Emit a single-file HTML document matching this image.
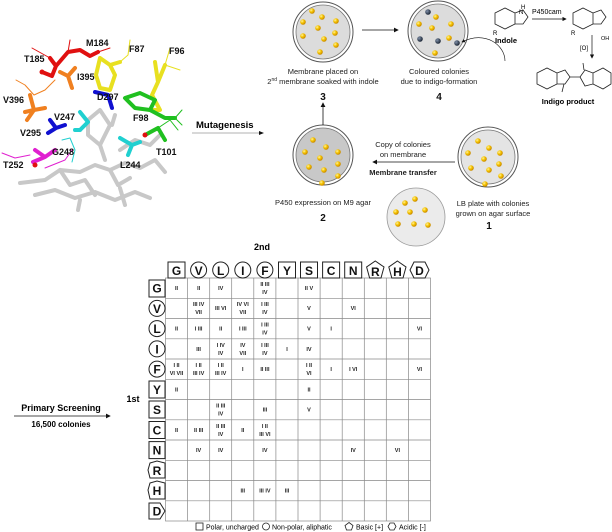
<!DOCTYPE html>
<html><head><meta charset="utf-8"><style>
html,body{margin:0;padding:0;background:#fff;}
svg{display:block;font-family:"Liberation Sans",sans-serif;}
.c{font-size:5.5px;font-weight:bold;text-anchor:middle;fill:#222}
.h{font-size:12px;font-weight:bold;text-anchor:middle;fill:#111}
.lb{font-size:9px;font-weight:bold;fill:#111}
.t{font-size:7.5px;text-anchor:middle;fill:#222}
.n{font-size:10px;font-weight:bold;text-anchor:middle;fill:#111}
.sh{fill:#fff;stroke:#222;stroke-width:1}
</style></head><body>
<svg width="612" height="532" viewBox="0 0 612 532">
<defs>
<marker id="ar" markerWidth="6" markerHeight="6" refX="5" refY="3" orient="auto"><path d="M0,0 L6,3 L0,6z" fill="#111"/></marker>
<radialGradient id="y" cx="35%" cy="35%" r="65%"><stop offset="0" stop-color="#fff3a0"/><stop offset="0.5" stop-color="#f5c400"/><stop offset="1" stop-color="#c98a00"/></radialGradient>
<radialGradient id="b" cx="35%" cy="35%" r="65%"><stop offset="0" stop-color="#8090a8"/><stop offset="1" stop-color="#1e2838"/></radialGradient>
</defs>

<!-- protein structure sketch -->
<g stroke-linecap="round" stroke-linejoin="round" fill="none">
<g stroke="#c8c8c8" stroke-width="4">
<path d="M20,183 L45,180 L60,170 L80,172 L95,165 L110,170 L125,163 L140,168 L155,160 L165,172"/>
<path d="M35,195 L55,190 L75,198 L95,192 L115,200 L135,192 L150,198"/>
<path d="M60,170 L70,185 L85,180 L95,195 M110,170 L118,185 L130,178 M80,200 L78,210 M120,188 L125,205"/>
<path d="M88,120 L100,110 L110,125 L100,145 L88,135 Z M100,145 L105,160 M112,125 L115,115"/>
<path d="M120,150 L135,140 L150,145 L160,135"/>
</g>
<g stroke="#e01010" stroke-width="4"><path d="M50,58 L56,66 L52,76 L42,72 M56,66 L68,52 L80,50 L90,56 L98,52"/></g>
<g stroke="#e01010" stroke-width="1"><path d="M32,48 L50,58 M68,52 L70,40 M98,52 L110,48"/></g>
<g stroke="#f08020" stroke-width="4"><path d="M60,72 L68,76 L75,68 M68,76 L72,88 M30,95 L34,110 L25,112 M34,110 L45,108 M34,110 L27,120"/></g>
<g stroke="#f08020" stroke-width="1"><path d="M16,80 L25,85 L34,95 L45,90 L55,80"/></g>
<g stroke="#e8e020" stroke-width="4"><path d="M100,58 L110,65 L115,75 L110,90 L100,88 L96,75 Z M110,65 L120,62 M155,62 L158,82 L152,95 L160,110 L150,110 M158,82 L165,65"/></g>
<g stroke="#e8e020" stroke-width="1"><path d="M120,62 L128,55 L130,40 M165,65 L170,48 M165,65 L180,70"/></g>
<g stroke="#20c020" stroke-width="4"><path d="M125,98 L140,93 L155,100 L150,110 L135,108 Z M150,110 L165,118 L175,118 M145,135 L158,128 L165,140"/></g>
<g stroke="#20c020" stroke-width="1"><path d="M175,118 L182,110 M175,118 L182,125 M158,128 L170,120 L178,130"/></g>
<g stroke="#1010d0" stroke-width="4"><path d="M95,92 L108,95 L112,108 M50,120 L56,128 L48,133 M56,128 L65,125"/></g>
<g stroke="#20d0d0" stroke-width="4"><path d="M80,112 L88,122 L80,130 M75,130 L80,130 M120,138 L132,145 L140,142 M132,145 L128,155"/></g>
<g stroke="#20d0d0" stroke-width="1"><path d="M62,140 L70,138 L75,150 L72,162"/></g>
<g stroke="#e020d0" stroke-width="4"><path d="M35,150 L45,157 L33,162 M45,157 L55,150"/></g>
<g stroke="#e020d0" stroke-width="1"><path d="M2,153 L15,158 L30,155 M45,168 L65,160 L72,150"/></g>
<circle cx="42" cy="72" r="2.5" fill="#e01010" stroke="none"/>
<circle cx="35" cy="165" r="2.5" fill="#e01010" stroke="none"/>
<circle cx="145" cy="135" r="2.5" fill="#e01010" stroke="none"/>
</g>
<text class="lb" x="86" y="46">M184</text>
<text class="lb" x="24" y="62">T185</text>
<text class="lb" x="129" y="52">F87</text>
<text class="lb" x="169" y="54">F96</text>
<text class="lb" x="77" y="80">I395</text>
<text class="lb" x="3" y="103">V396</text>
<text class="lb" x="97" y="100">D297</text>
<text class="lb" x="54" y="120">V247</text>
<text class="lb" x="20" y="136">V295</text>
<text class="lb" x="133" y="121">F98</text>
<text class="lb" x="156" y="155">T101</text>
<text class="lb" x="52" y="155">G248</text>
<text class="lb" x="120" y="168">L244</text>
<text class="lb" x="3" y="168">T252</text>

<text x="196" y="128" style="font-size:9.5px;font-weight:bold">Mutagenesis</text>
<line x1="192" y1="133" x2="262" y2="133" stroke="#999" stroke-width="0.8"/>
<path d="M259,131 L264,133 L259,135z" fill="#111"/>

<!-- plates -->
<g>
<circle cx="323" cy="32" r="30" fill="#fff" stroke="#555" stroke-width="1"/>
<circle cx="323" cy="32" r="27" fill="#dcdcdc" stroke="#777" stroke-width="0.8"/>
<circle cx="438" cy="31" r="30" fill="#fff" stroke="#555" stroke-width="1"/>
<circle cx="438" cy="31" r="27" fill="#dcdcdc" stroke="#777" stroke-width="0.8"/>
<circle cx="323" cy="155" r="30" fill="#fff" stroke="#555" stroke-width="1"/>
<circle cx="323" cy="155" r="27" fill="#c8c8c8" stroke="#777" stroke-width="0.8"/>
<circle cx="488" cy="157" r="30" fill="#fff" stroke="#555" stroke-width="1"/>
<circle cx="488" cy="157" r="27" fill="#e4e4e4" stroke="#777" stroke-width="0.8"/>
<circle cx="416" cy="217" r="29" fill="#ebebeb" stroke="#999" stroke-width="0.8"/>
</g>
<g fill="url(#y)">
<circle cx="312" cy="11" r="2.8"/><circle cx="303" cy="22" r="2.8"/><circle cx="322" cy="17" r="2.8"/><circle cx="336" cy="21" r="2.8"/><circle cx="318" cy="28" r="2.8"/><circle cx="303" cy="36" r="2.8"/><circle cx="335" cy="33" r="2.8"/><circle cx="324" cy="39" r="2.8"/><circle cx="336" cy="45" r="2.8"/><circle cx="320" cy="52" r="2.8"/>
<circle cx="419" cy="24" r="2.8"/><circle cx="436" cy="17" r="2.8"/><circle cx="451" cy="24" r="2.8"/><circle cx="432" cy="28" r="2.8"/><circle cx="449" cy="38" r="2.8"/><circle cx="435" cy="53" r="2.8"/>
<circle cx="313" cy="140" r="2.8"/><circle cx="305" cy="152" r="2.8"/><circle cx="326" cy="147" r="2.8"/><circle cx="338" cy="152" r="2.8"/><circle cx="320" cy="158" r="2.8"/><circle cx="309" cy="167" r="2.8"/><circle cx="338" cy="164" r="2.8"/><circle cx="324" cy="170" r="2.8"/><circle cx="338" cy="176" r="2.8"/><circle cx="322" cy="183" r="2.8"/>
<circle cx="478" cy="141" r="2.8"/><circle cx="468" cy="153" r="2.8"/><circle cx="489" cy="148" r="2.8"/><circle cx="500" cy="153" r="2.8"/><circle cx="484" cy="159" r="2.8"/><circle cx="471" cy="168" r="2.8"/><circle cx="499" cy="164" r="2.8"/><circle cx="489" cy="170" r="2.8"/><circle cx="501" cy="176" r="2.8"/><circle cx="485" cy="184" r="2.8"/>
<circle cx="405" cy="203" r="2.8"/><circle cx="415" cy="199" r="2.8"/><circle cx="396" cy="212" r="2.8"/><circle cx="410" cy="212" r="2.8"/><circle cx="425" cy="210" r="2.8"/><circle cx="398" cy="224" r="2.8"/><circle cx="414" cy="224" r="2.8"/><circle cx="428" cy="225" r="2.8"/>
</g>
<g fill="url(#b)"><circle cx="428" cy="12" r="2.8"/><circle cx="420" cy="39" r="2.8"/><circle cx="438" cy="41" r="2.8"/><circle cx="457" cy="43" r="2.8"/></g>

<line x1="362" y1="30" x2="398" y2="30" stroke="#111" stroke-width="0.8" marker-end="url(#ar)"/>
<line x1="323" y1="125" x2="323" y2="103" stroke="#111" stroke-width="0.8" marker-end="url(#ar)"/>
<line x1="455" y1="162" x2="373" y2="162" stroke="#111" stroke-width="0.8" marker-end="url(#ar)"/>
<path d="M505,61 C505,45 485,30 462,42" fill="none" stroke="#111" stroke-width="0.6" marker-end="url(#ar)"/>

<text class="t" x="323" y="74">Membrane placed on</text>
<text class="t" x="323" y="84">2<tspan font-size="5" dy="-3">nd</tspan><tspan dy="3"> membrane soaked with indole</tspan></text>
<text class="n" x="323" y="100">3</text>
<text class="t" x="439" y="74">Coloured colonies</text>
<text class="t" x="439" y="84">due to indigo-formation</text>
<text class="n" x="439" y="100">4</text>
<text class="t" x="403" y="147">Copy of colonies</text>
<text class="t" x="403" y="157">on membrane</text>
<text class="t" x="403" y="175" font-weight="bold">Membrane transfer</text>
<text class="t" x="323" y="205">P450 expression on M9 agar</text>
<text class="n" x="323" y="221">2</text>
<text class="t" x="493" y="206">LB plate with colonies</text>
<text class="t" x="493" y="216">grown on agar surface</text>
<text class="n" x="489" y="229">1</text>

<!-- chemistry -->
<g fill="none" stroke="#222" stroke-width="0.8">
<path d="M495,13 L505,8 L515,13 L515,24 L505,29 L495,24 Z M515,13 L523,10 L528,17 L523,24 L515,24"/>
<path d="M573,13 L583,8 L593,13 L593,24 L583,29 L573,24 Z M593,13 L601,10 L606,17 L601,24 L593,24"/>
<path d="M537,73 L547,68 L557,73 L557,84 L547,89 L537,84 Z M557,73 L565,70 L570,77 L565,84 L557,84"/>
<path d="M570,77 L580,77 M580,77 L585,70 L593,73 L593,84 L585,86 Z M593,73 L603,68 L611,73 L611,84 L603,89 L593,84 M564,84 L562,92 M584,70 L583,63"/>
</g>
<line x1="532" y1="19" x2="566" y2="19" stroke="#111" stroke-width="0.7" marker-end="url(#ar)"/>
<line x1="592" y1="35" x2="592" y2="58" stroke="#111" stroke-width="0.7" marker-end="url(#ar)"/>
<text x="532" y="14" style="font-size:7px">P450cam</text>
<text x="580" y="50" style="font-size:6px">[O]</text>
<text x="521" y="9" style="font-size:6px">H</text><text x="519" y="14" style="font-size:6px">N</text>
<text x="493" y="35" style="font-size:6px">R</text>
<text x="506" y="43" style="font-size:7.5px;font-weight:bold;text-anchor:middle">Indole</text>
<text x="571" y="35" style="font-size:6px">R</text>
<text x="601" y="40" style="font-size:5.5px">OH</text>
<text x="568" y="104" style="font-size:7.5px;font-weight:bold;text-anchor:middle">Indigo product</text>

<!-- table -->
<text x="262" y="250" style="font-size:9px;font-weight:bold;text-anchor:middle">2nd</text>
<text x="133" y="402" style="font-size:9px;font-weight:bold;text-anchor:middle">1st</text>
<text x="61" y="411" style="font-size:9px;font-weight:bold;text-anchor:middle">Primary Screening</text>
<line x1="14" y1="416" x2="110" y2="416" stroke="#111" stroke-width="0.8" marker-end="url(#ar)"/>
<text x="61" y="427" style="font-size:8px;font-weight:bold;text-anchor:middle">16,500 colonies</text>

<g stroke="#888" stroke-width="0.7">
<rect x="165.5" y="278" width="265" height="243" fill="none"/>
<path d="M187.6,278V521M209.7,278V521M231.7,278V521M253.8,278V521M275.9,278V521M298,278V521M320.1,278V521M342.2,278V521M364.3,278V521M386.3,278V521M408.4,278V521"/>
<path d="M165.5,298.3H430.5M165.5,318.5H430.5M165.5,338.8H430.5M165.5,359H430.5M165.5,379.3H430.5M165.5,399.5H430.5M165.5,419.8H430.5M165.5,440H430.5M165.5,460.3H430.5M165.5,480.5H430.5M165.5,500.8H430.5"/>
</g>

<!-- column headers -->
<rect class="sh" x="168" y="262" width="17" height="16"/>
<circle class="sh" cx="198.6" cy="270" r="8"/>
<circle class="sh" cx="220.7" cy="270" r="8"/>
<circle class="sh" cx="242.8" cy="270" r="8"/>
<circle class="sh" cx="264.9" cy="270" r="8"/>
<rect class="sh" x="278.5" y="262" width="17" height="16"/>
<rect class="sh" x="300.5" y="262" width="17" height="16"/>
<rect class="sh" x="322.6" y="262" width="17" height="16"/>
<rect class="sh" x="344.7" y="262" width="17" height="16"/>
<path class="sh" d="M375.3,261 L384,267 L381,278 L369.6,278 L366.6,267 Z"/>
<path class="sh" d="M397.4,261 L406,267 L403,278 L391.8,278 L388.8,267 Z"/>
<path class="sh" d="M414,262 L425,262 L429,270 L425,278 L414,278 L410,270 Z"/>
<text class="h" x="176.5" y="275">G</text><text class="h" x="198.6" y="275">V</text><text class="h" x="220.7" y="275">L</text><text class="h" x="242.8" y="275">I</text><text class="h" x="264.9" y="275">F</text><text class="h" x="287" y="275">Y</text><text class="h" x="309" y="275">S</text><text class="h" x="331.1" y="275">C</text><text class="h" x="353.2" y="275">N</text><text class="h" x="375.3" y="276">R</text><text class="h" x="397.4" y="276">H</text><text class="h" x="419.5" y="275">D</text>

<!-- row headers -->
<rect class="sh" x="149" y="280" width="16" height="17"/>
<circle class="sh" cx="157" cy="308.4" r="8"/>
<circle class="sh" cx="157" cy="328.6" r="8"/>
<circle class="sh" cx="157" cy="348.9" r="8"/>
<circle class="sh" cx="157" cy="369.1" r="8"/>
<rect class="sh" x="149" y="381" width="16" height="17"/>
<rect class="sh" x="149" y="401" width="16" height="17"/>
<rect class="sh" x="149" y="421.5" width="16" height="17"/>
<rect class="sh" x="149" y="441.6" width="16" height="17"/>
<path class="sh" d="M150,463 L157,461 L165,463 L165,478 L150,478 L148,470 Z"/>
<path class="sh" d="M150,483 L157,481 L165,483 L165,499 L150,499 L148,490 Z"/>
<path class="sh" d="M149,503 L160,503 L165,511 L160,519 L149,519 Z"/>
<text class="h" x="157" y="292.5">G</text><text class="h" x="157" y="312.8">V</text><text class="h" x="157" y="333">L</text><text class="h" x="157" y="353.3">I</text><text class="h" x="157" y="373.5">F</text><text class="h" x="157" y="393.8">Y</text><text class="h" x="157" y="414">S</text><text class="h" x="157" y="434.3">C</text><text class="h" x="157" y="454.5">N</text><text class="h" x="157" y="474.8">R</text><text class="h" x="157" y="495">H</text><text class="h" x="157" y="515.3">D</text>

<!-- cells -->
<g class="c">
<!-- G -->
<text class="c" x="176.5" y="290">II</text><text class="c" x="198.6" y="290">II</text><text class="c" x="220.7" y="290">IV</text>
<text class="c" x="264.9" y="286">II  III</text><text class="c" x="264.9" y="294">IV</text><text class="c" x="309" y="290">II  V</text>
<!-- V -->
<text class="c" x="198.6" y="306">III  IV</text><text class="c" x="198.6" y="314">VII</text>
<text class="c" x="220.7" y="310">III  VI</text>
<text class="c" x="242.8" y="306">IV  VI</text><text class="c" x="242.8" y="314">VII</text>
<text class="c" x="264.9" y="306">I  III</text><text class="c" x="264.9" y="314">IV</text>
<text class="c" x="309" y="310">V</text><text class="c" x="353.2" y="310">VI</text>
<!-- L -->
<text class="c" x="176.5" y="330.5">II</text><text class="c" x="198.6" y="330.5">I  III</text><text class="c" x="220.7" y="330.5">II</text><text class="c" x="242.8" y="330.5">I  III</text>
<text class="c" x="264.9" y="326.5">I  III</text><text class="c" x="264.9" y="334.5">IV</text>
<text class="c" x="309" y="330.5">V</text><text class="c" x="331.1" y="330.5">I</text><text class="c" x="419.5" y="330.5">VI</text>
<!-- I -->
<text class="c" x="198.6" y="351">III</text>
<text class="c" x="220.7" y="347">I  IV</text><text class="c" x="220.7" y="355">IV</text>
<text class="c" x="242.8" y="347">IV</text><text class="c" x="242.8" y="355">VII</text>
<text class="c" x="264.9" y="347">I  III</text><text class="c" x="264.9" y="355">IV</text>
<text class="c" x="287" y="351">I</text><text class="c" x="309" y="351">IV</text>
<!-- F -->
<text class="c" x="176.5" y="367">I  II</text><text class="c" x="176.5" y="375">VI VII</text>
<text class="c" x="198.6" y="367">I  II</text><text class="c" x="198.6" y="375">III  IV</text>
<text class="c" x="220.7" y="367">I  II</text><text class="c" x="220.7" y="375">III  IV</text>
<text class="c" x="242.8" y="371">I</text><text class="c" x="264.9" y="371">II  III</text>
<text class="c" x="309" y="367">I  II</text><text class="c" x="309" y="375">VI</text>
<text class="c" x="331.1" y="371">I</text><text class="c" x="353.2" y="371">I  VI</text><text class="c" x="419.5" y="371">VI</text>
<!-- Y -->
<text class="c" x="176.5" y="391.5">II</text><text class="c" x="309" y="391.5">II</text>
<!-- S -->
<text class="c" x="220.7" y="407.5">II  III</text><text class="c" x="220.7" y="415.5">IV</text>
<text class="c" x="264.9" y="411.5">III</text><text class="c" x="309" y="411.5">V</text>
<!-- C -->
<text class="c" x="176.5" y="432">II</text><text class="c" x="198.6" y="432">II  III</text>
<text class="c" x="220.7" y="428">II  III</text><text class="c" x="220.7" y="436">IV</text>
<text class="c" x="242.8" y="432">II</text>
<text class="c" x="264.9" y="428">I  II</text><text class="c" x="264.9" y="436">III  VI</text>
<!-- N -->
<text class="c" x="198.6" y="452">IV</text><text class="c" x="220.7" y="452">IV</text><text class="c" x="264.9" y="452">IV</text><text class="c" x="353.2" y="452">IV</text><text class="c" x="397.4" y="452">VI</text>
<!-- H -->
<text class="c" x="242.8" y="492.5">III</text><text class="c" x="264.9" y="492.5">III  IV</text><text class="c" x="287" y="492.5">III</text>
</g>

<!-- legend -->
<rect x="196" y="523" width="7" height="7" fill="#fff" stroke="#222" stroke-width="0.8"/>
<text x="206" y="529.5" style="font-size:7px">Polar, uncharged</text>
<circle cx="266" cy="526.5" r="3.5" fill="#fff" stroke="#222" stroke-width="0.8"/>
<text x="272" y="529.5" style="font-size:7px">Non-polar, aliphatic</text>
<path d="M349,522.5 L353,525.5 L351.5,530 L346.5,530 L345,525.5 Z" fill="#fff" stroke="#222" stroke-width="0.8"/>
<text x="356" y="529.5" style="font-size:7px">Basic [+]</text>
<path d="M390,523 L394,523 L396,526.5 L394,530 L390,530 L388,526.5 Z" fill="#fff" stroke="#222" stroke-width="0.8"/>
<text x="399" y="529.5" style="font-size:7px">Acidic [-]</text>
</svg>
</body></html>
